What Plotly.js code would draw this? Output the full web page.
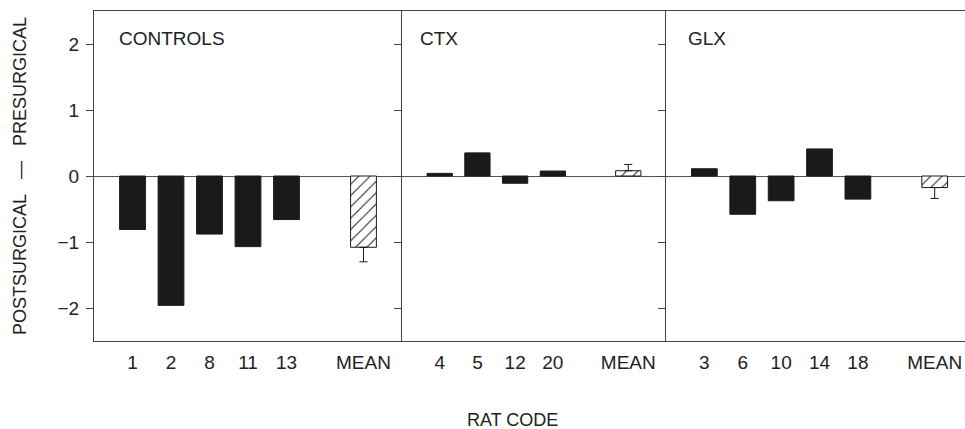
<!DOCTYPE html>
<html>
<head>
<meta charset="utf-8">
<script src="https://cdn.plot.ly/plotly-3.0.1.min.js"></script>
<style>
  html, body { margin: 0; padding: 0; background: #fff; }
  #chart { width: 965px; height: 429px; }
</style>
</head>
<body>
<div id="chart"></div>
<script>
// ---- Data ----
const groupNames = ['CONTROLS', 'CTX', 'GLX'];

const controlsRats = ['1', '2', '8', '11', '13'];
const controlsValues = [-0.81, -1.96, -0.88, -1.07, -0.66];
const controlsMean = -1.08;
const controlsErrUp = 0;
const controlsErrDown = 0.22;

const ctxRats = ['4', '5', '12', '20'];
const ctxValues = [0.04, 0.35, -0.11, 0.075];
const ctxMean = 0.08;
const ctxErrUp = 0.095;
const ctxErrDown = 0;

const glxRats = ['3', '6', '10', '14', '18'];
const glxValues = [0.11, -0.58, -0.375, 0.41, -0.35];
const glxMean = -0.175;
const glxErrUp = 0;
const glxErrDown = 0.165;

const meanLabel = 'MEAN';
const yTicks = [-2, -1, 0, 1, 2];

// ---- Build traces ----
const FONT = 'Liberation Sans, Arial, sans-serif';
const INK = '#1a1a1a';
const LINE = '#444';

function panelTraces(rats, values, mean, errUp, errDown, xa, ya) {
  const xs = rats.map((_, i) => i);
  const meanPos = rats.length + 1;
  return [
    {
      type: 'bar', x: xs, y: values, xaxis: xa, yaxis: ya,
      width: 0.67,
      marker: { color: INK, line: { color: INK, width: 1 } },
      hoverinfo: 'skip', showlegend: false
    },
    {
      type: 'bar', x: [meanPos], y: [mean], xaxis: xa, yaxis: ya,
      width: 0.67,
      marker: {
        color: '#ffffff',
        line: { color: INK, width: 1 },
        pattern: { shape: '/', fgcolor: INK, bgcolor: '#ffffff', size: 8, solidity: 0.12 }
      },
      error_y: {
        type: 'data', symmetric: false,
        array: [errUp], arrayminus: [errDown],
        color: INK, thickness: 1, width: 4
      },
      hoverinfo: 'skip', showlegend: false
    }
  ];
}

const data = [].concat(
  panelTraces(controlsRats, controlsValues, controlsMean, controlsErrUp, controlsErrDown, 'x', 'y'),
  panelTraces(ctxRats, ctxValues, ctxMean, ctxErrUp, ctxErrDown, 'x2', 'y2'),
  panelTraces(glxRats, glxValues, glxMean, glxErrUp, glxErrDown, 'x3', 'y3')
);

function xAxis(rats, domain, range, anchor) {
  const vals = rats.map((_, i) => i).concat([rats.length + 1]);
  return {
    domain: domain, range: range, anchor: anchor,
    showline: true, mirror: true, linecolor: LINE, linewidth: 1,
    showgrid: false, zeroline: false,
    ticks: '', tickmode: 'array', tickvals: vals, ticktext: rats.concat([meanLabel]),
    tickfont: { family: FONT, size: 19, color: '#222' },
    ticklabelstandoff: 4,
    fixedrange: true
  };
}

function yAxis(anchor, showLabels) {
  return {
    anchor: anchor, range: [-2.5, 2.5],
    showline: true, mirror: false, linecolor: LINE, linewidth: 1,
    showgrid: false,
    zeroline: true, zerolinecolor: '#555', zerolinewidth: 1,
    ticks: 'outside', ticklen: 7, tickcolor: LINE, tickwidth: 1,
    tickmode: 'array', tickvals: yTicks,
    showticklabels: showLabels,
    tickfont: { family: FONT, size: 19, color: '#222' },
    ticklabelstandoff: 3,
    fixedrange: true
  };
}

const d1 = 0.3536, d2 = 0.6567;

const layout = {
  width: 965, height: 429,
  margin: { l: 94, r: 0, t: 11, b: 88, pad: 0 },
  paper_bgcolor: '#ffffff', plot_bgcolor: '#ffffff',
  font: { family: FONT, color: '#222' },
  barmode: 'overlay',
  showlegend: false,
  xaxis: xAxis(controlsRats, [0, d1], [-1, 7], 'y'),
  xaxis2: xAxis(ctxRats, [d1, d2], [-1, 6], 'y2'),
  xaxis3: xAxis(glxRats, [d2, 1], [-1, 6.79], 'y3'),
  yaxis: yAxis('x', true),
  yaxis2: yAxis('x2', false),
  yaxis3: yAxis('x3', false),
  annotations: [
    { text: groupNames[0], xref: 'paper', yref: 'paper', x: 0.0264, y: 0.918,
      xanchor: 'left', yanchor: 'middle', showarrow: false,
      font: { family: FONT, size: 19, color: '#222' } },
    { text: groupNames[1], xref: 'paper', yref: 'paper', x: 0.372, y: 0.918,
      xanchor: 'left', yanchor: 'middle', showarrow: false,
      font: { family: FONT, size: 19, color: '#222' } },
    { text: groupNames[2], xref: 'paper', yref: 'paper', x: 0.680, y: 0.918,
      xanchor: 'left', yanchor: 'middle', showarrow: false,
      font: { family: FONT, size: 19, color: '#222' } },
    { text: 'RAT CODE', xref: 'paper', yref: 'paper', x: 0.48, y: -0.239,
      xanchor: 'center', yanchor: 'middle', showarrow: false,
      font: { family: FONT, size: 18, color: '#222' } },
    { text: 'POSTSURGICAL\u00a0\u00a0\u00a0\u2014\u00a0\u00a0\u00a0PRESURGICAL', xref: 'paper', yref: 'paper',
      x: -0.085, y: 0.5, xanchor: 'center', yanchor: 'middle', textangle: -90, showarrow: false,
      font: { family: FONT, size: 18, color: '#222' } }
  ]
};

Plotly.newPlot('chart', data, layout, { staticPlot: true, displayModeBar: false });
</script>
</body>
</html>
